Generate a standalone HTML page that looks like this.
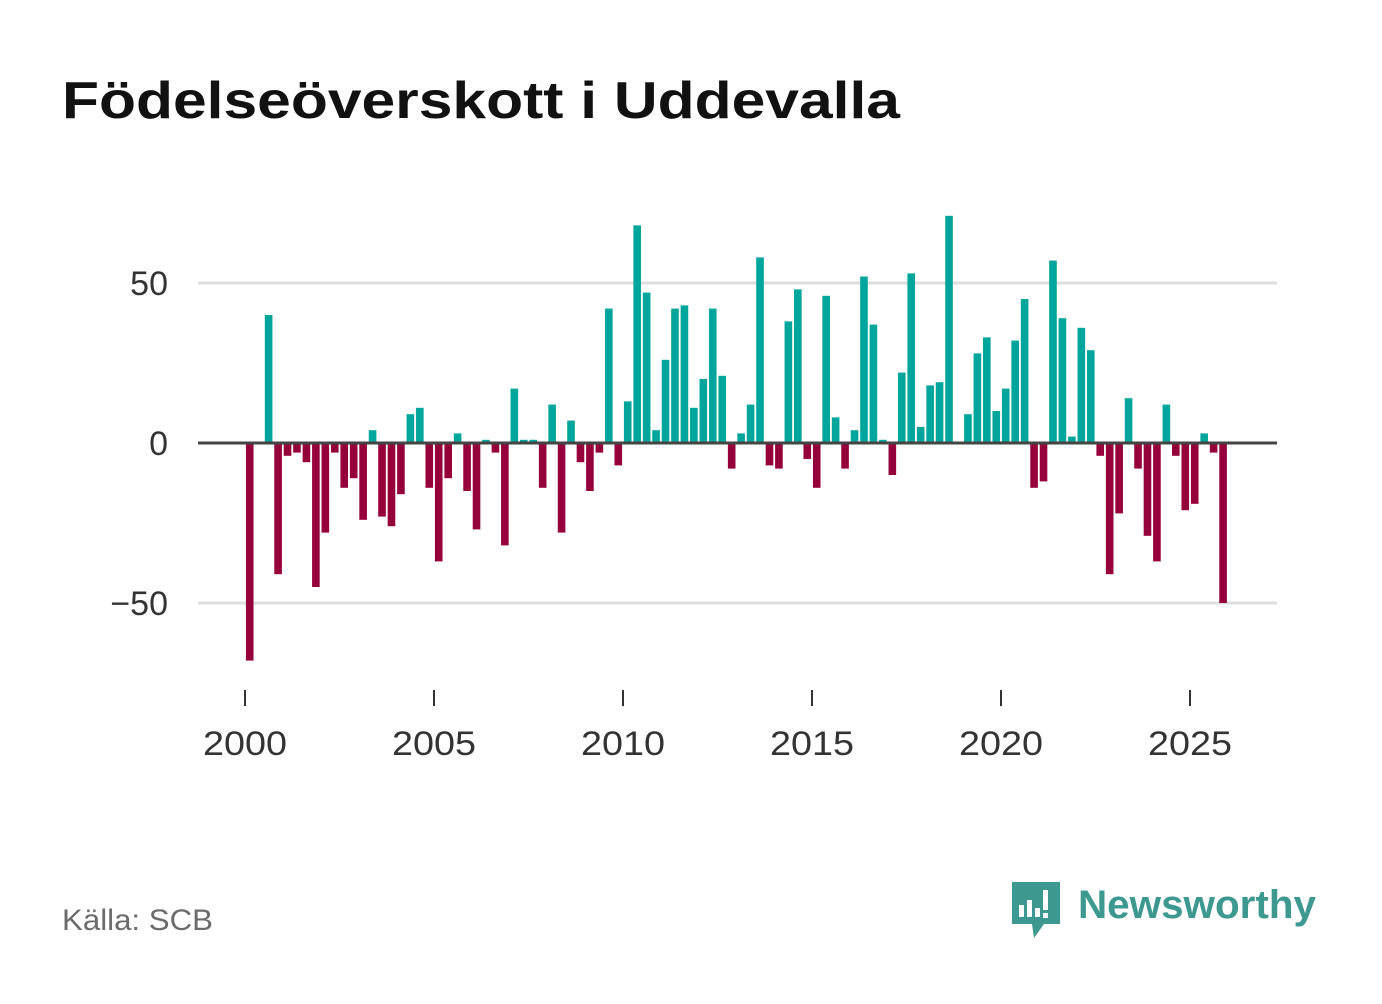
<!DOCTYPE html>
<html><head><meta charset="utf-8">
<style>
body{margin:0;background:#fff;width:1382px;height:999px;overflow:hidden;font-family:"Liberation Sans",sans-serif}
</style></head>
<body>
<svg width="1382" height="999">
<text x="62" y="118" font-size="52" font-weight="bold" fill="#111" textLength="838" lengthAdjust="spacingAndGlyphs">Födelseöverskott i Uddevalla</text>
<g id="grid"></g>
<g id="bars"></g>
<g id="axis"></g>
<text x="62" y="930" font-size="30" fill="#6b6b6b" textLength="151" lengthAdjust="spacingAndGlyphs">Källa: SCB</text>
<g>
<path d="M1012 882h48v42h-16l-10 14l-2-14h-20z" fill="#3d9990"/>
<rect x="1019" y="905" width="5" height="12" fill="#fff"/><rect x="1027" y="900" width="5" height="17" fill="#fff"/><rect x="1035" y="908" width="5" height="9" fill="#fff"/><rect x="1043" y="890" width="5" height="20" fill="#fff"/><rect x="1043" y="913" width="5" height="5" fill="#fff"/>
<text x="1078" y="918" font-size="40" font-weight="bold" fill="#3d9990" textLength="238" lengthAdjust="spacingAndGlyphs">Newsworthy</text>
</g>
</svg>
<script>
const startYear=2000;
const values=[-68,0,40,-41,-4,-3,-6,-45,-28,-3,-14,-11,-24,4,-23,-26,-16,9,11,-14,-37,-11,3,-15,-27,1,-3,-32,17,1,1,-14,12,-28,7,-6,-15,-3,42,-7,13,68,47,4,26,42,43,11,20,42,21,-8,3,12,58,-7,-8,38,48,-5,-14,46,8,-8,4,52,37,1,-10,22,53,5,18,19,71,0,9,28,33,10,17,32,45,-14,-12,57,39,2,36,29,-4,-41,-22,14,-8,-29,-37,12,-4,-21,-19,3,-3,-50];
const yTicks=[-50,0,50];
const yTickLabels=["−50","0","50"];
const xTicks=[2000,2005,2010,2015,2020,2025];
const NS="http://www.w3.org/2000/svg";
const xs=y=>245+(y-2000)*37.8;
const ys=v=>443-v*3.2;
const mk=(t,a,p)=>{const e=document.createElementNS(NS,t);for(const k in a)e.setAttribute(k,a[k]);p.appendChild(e);return e;};
const grid=document.getElementById('grid'),bars=document.getElementById('bars'),axis=document.getElementById('axis');
yTicks.forEach((t,i)=>{
 if(t!==0){const l=mk('line',{x1:198,x2:1277,y1:ys(t),y2:ys(t),stroke:'#dedede','stroke-width':3},grid);
 
 }
 const tx=mk('text',{x:168,y:ys(t)+12,'font-size':34,fill:'#333','text-anchor':'end'},axis);tx.textContent=yTickLabels[i];
 
 
});
values.forEach((v,i)=>{
 if(v===0)return;
 const cx=xs(startYear+(i+0.5)/4);
 const r=mk('rect',{x:cx-3.8,width:7.6,y:Math.min(ys(v),ys(0)),height:Math.abs(ys(v)-ys(0)),fill:v>0?'#00a59b':'#95003b'},bars);
 
 
});
const zl=mk('line',{x1:198,x2:1277,y1:ys(0),y2:ys(0),stroke:'#444','stroke-width':3},axis);


xTicks.forEach(t=>{
 const l=mk('line',{x1:xs(t),x2:xs(t),y1:690,y2:706,stroke:'#333','stroke-width':2},axis);
 
 
 const tx=mk('text',{x:xs(t)-42,y:755,'font-size':34,fill:'#333',textLength:84,lengthAdjust:'spacingAndGlyphs'},axis);tx.textContent=t;
 
 
});
</script>
</body></html>
